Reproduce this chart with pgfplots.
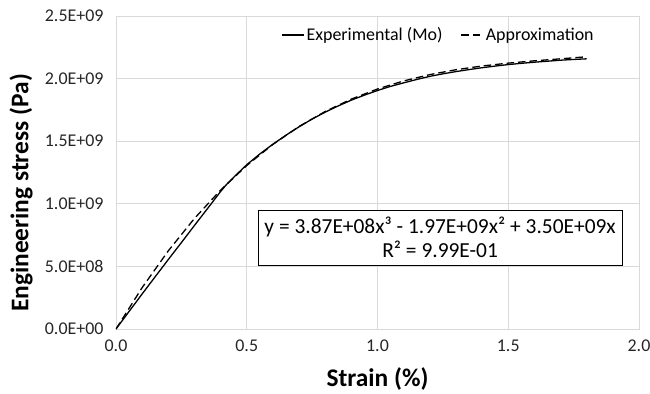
\documentclass[border=0pt]{standalone}
\usepackage{fontspec}
\setmainfont{Carlito}
\usepackage{pgfplots}
\pgfplotsset{compat=1.18}
\begin{document}
\begin{tikzpicture}
\begin{axis}[
  scale only axis, width=523bp, height=313bp,
  xmin=0, xmax=2, ymin=0, ymax=2.5,
  xtick={0,0.5,1,1.5,2}, xticklabels={0.0,0.5,1.0,1.5,2.0},
  ytick={0,0.5,1,1.5,2,2.5},
  yticklabels={0.0E+00,5.0E+08,1.0E+09,1.5E+09,2.0E+09,2.5E+09},
  grid=major, grid style={color=black!15, line width=0.8bp},
  axis line style={black!15, line width=0.8bp},
  major tick length=0,
  tick label style={font=\fontsize{18}{18}\selectfont, color=black!85},
  xticklabel style={yshift=-7bp},
  yticklabel style={xshift=-9bp},
  xlabel={Strain (\%)}, ylabel={Engineering stress (Pa)},
  label style={font=\fontsize{25.5}{25.5}\selectfont\bfseries},
  xlabel style={at={(axis description cs:0.5,-0.160)}, anchor=center},
  ylabel style={at={(axis description cs:-0.1816,0.4345)}, anchor=center},
  legend style={at={(axis description cs:0.310,0.939)}, anchor=west, draw=none, fill=none,
    font=\fontsize{18}{18}\selectfont, legend columns=2,
    /tikz/every even column/.append style={column sep=16bp}},
  legend image code/.code={\draw[#1] (0bp,0bp) -- (22bp,0bp);},
]
\addplot[black, line width=1.3bp] coordinates {
(0,0) (0.05,0.14) (0.10,0.28) (0.15,0.418) (0.18,0.50) (0.20,0.555)
(0.25,0.69) (0.30,0.827) (0.35,0.962) (0.364,1.0) (0.40,1.098) (0.42,1.148)
(0.45,1.212) (0.50,1.312) (0.55,1.398) (0.60,1.476) (0.65,1.548) (0.70,1.615)
(0.75,1.677) (0.80,1.732) (0.85,1.782) (0.90,1.828) (0.95,1.868) (1.00,1.905)
(1.05,1.938) (1.10,1.966) (1.15,1.993) (1.20,2.018) (1.25,2.038) (1.30,2.056)
(1.35,2.072) (1.40,2.087) (1.45,2.100) (1.50,2.112) (1.55,2.122) (1.60,2.131)
(1.65,2.139) (1.70,2.147) (1.75,2.153) (1.80,2.158)
};
\addlegendentry{Experimental (Mo)}
\addplot[black, line width=1.3bp, dash pattern=on 7.5bp off 4bp] coordinates {
(0,0) (0.1,0.3307) (0.2,0.6243) (0.3,0.8831) (0.4,1.1096) (0.5,1.3059)
(0.6,1.4744) (0.7,1.6174) (0.8,1.7373) (0.9,1.8364) (1.0,1.917) (1.1,1.9814)
(1.2,2.0319) (1.3,2.0709) (1.4,2.1007) (1.5,2.1236) (1.6,2.1420) (1.7,2.1580)
(1.8,2.1743)
};
\addlegendentry{Approximation}
\node[draw=black, line width=0.8bp, fill=white, align=center,
  font=\fontsize{21.5}{24}\selectfont, minimum width=364bp, minimum height=55bp, inner sep=2bp]
  at (axis cs:1.2395,0.731)
  {y = 3.87E+08x³ - 1.97E+09x² + 3.50E+09x\\R² = 9.99E-01};
\end{axis}
\pgfresetboundingbox
\useasboundingbox ([xshift=-116bp,yshift=-65bp]current axis.south west) rectangle ([xshift=11bp,yshift=16bp]current axis.north east);
\end{tikzpicture}
\end{document}
